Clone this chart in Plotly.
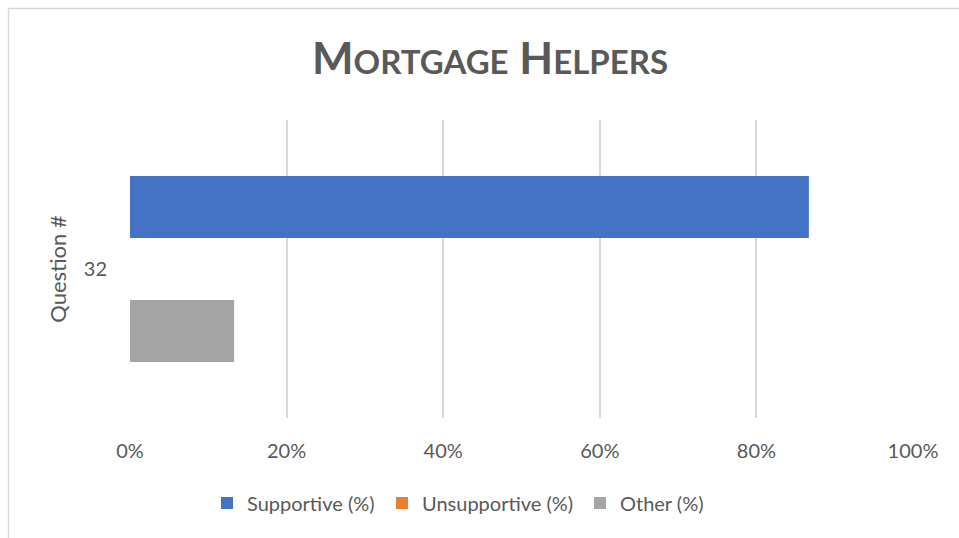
import plotly.graph_objects as go

categories = ["32"]
series_names = ["Supportive (%)", "Unsupportive (%)", "Other (%)"]
supportive = [86.7]
unsupportive = [0.0]
other = [13.3]
x_ticks = [0, 20, 40, 60, 80, 100]
x_tick_labels = [f"{v}%" for v in x_ticks]
colors = ["#4472C4", "#ED7D31", "#A5A5A5"]

W, H = 959, 538
L, R, T, B = 130, 46, 120, 120
pw, ph = W - L - R, H - T - B

def px_x(p):
    return (p - L) / pw

def px_y(p):
    return 1 - (p - T) / ph

legend_names = ["legend", "legend2", "legend3"]
legend_px = [207, 382, 580]

fig = go.Figure()
for name, vals, col, lg in zip(series_names, [supportive, unsupportive, other], colors, legend_names):
    fig.add_trace(go.Bar(y=categories, x=vals, name=name, orientation="h", legend=lg,
                         showlegend=True, marker=dict(color=col, line=dict(width=0))))

legend_common = dict(orientation="h", xanchor="left", y=px_y(503), yanchor="middle",
                     font=dict(size=20, color="#595959"), bgcolor="rgba(0,0,0,0)")

fig.update_layout(
    width=W, height=H,
    margin=dict(l=L, r=R, t=T, b=B),
    paper_bgcolor="white", plot_bgcolor="white",
    showlegend=True,
    barmode="group", bargap=0.376, bargroupgap=0,
    font=dict(family="Lato", color="#595959", size=20),
    title=dict(
        text="M<span style='font-size:33px'>ORTGAGE</span> H<span style='font-size:33px'>ELPERS</span>",
        font=dict(family="Lato", size=44, color="#595959", weight="bold"),
        x=490 / W, xanchor="center", xref="container",
        y=1 - 59 / H, yanchor="middle", yref="container",
    ),
    xaxis=dict(range=[0, 100], tickmode="array", tickvals=x_ticks, ticktext=x_tick_labels,
               showgrid=True, gridcolor="#d9d9d9", gridwidth=1.5,
               zeroline=False, showline=False, ticks="",
               ticklabelstandoff=19, tickfont=dict(size=20, color="#595959"),
               fixedrange=True),
    yaxis=dict(autorange="reversed", showgrid=False, zeroline=False, showline=False,
               ticks="", ticklabelstandoff=22, tickfont=dict(size=20, color="#595959"),
               title=dict(text="Question #", font=dict(size=22, color="#595959"), standoff=11)),
    legend=dict(x=px_x(legend_px[0]), **legend_common),
    legend2=dict(x=px_x(legend_px[1]), **legend_common),
    legend3=dict(x=px_x(legend_px[2]), **legend_common),
    shapes=[dict(type="rect", xref="paper", yref="paper",
                 x0=px_x(8.5), x1=px_x(966), y0=px_y(545), y1=px_y(8.5),
                 line=dict(color="#d9d9d9", width=1.5), fillcolor="rgba(0,0,0,0)", layer="below")],
)

fig.write_html("out.html", config={"displayModeBar": False},
               post_script="document.body.style.margin='0';")
